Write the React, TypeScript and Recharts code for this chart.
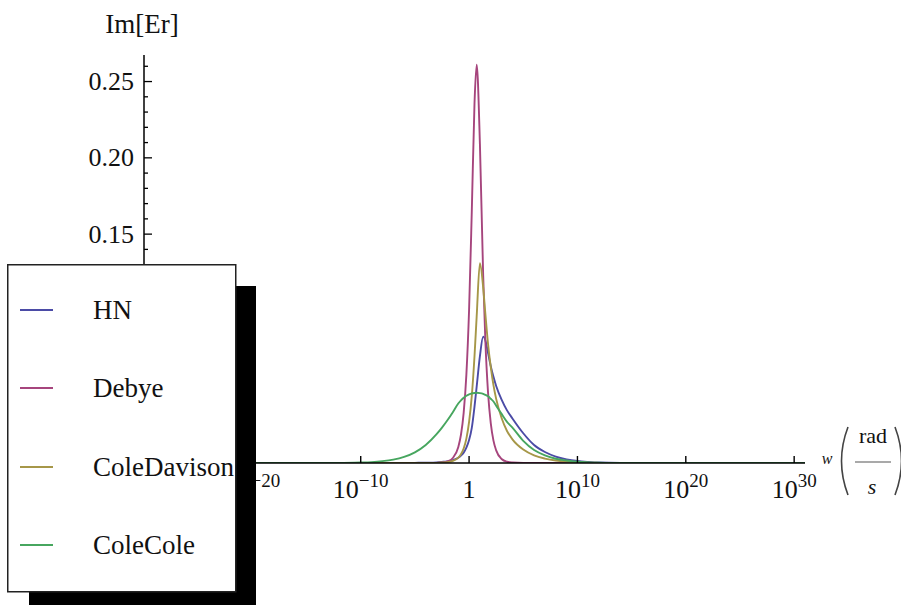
import React from "react"
import { LineChart, Line, XAxis, YAxis } from "recharts"

// log10(w) sample grid and Im[Er] read for each model
const logW = [
  -30, -20, -14, -12, -10, -9, -8, -7, -6, -5, -4, -3, -2.5, -2, -1.5, -1, -0.75, -0.5, -0.25, 0,
  0.25, 0.5, 0.7, 1, 1.3, 1.5, 1.75, 2, 2.25, 2.5, 3, 3.5, 4, 5, 6, 7, 8, 9, 10, 11, 12, 14, 20, 31,
]

const hn = [
  0, 0, 0, 0, 0, 0, 0, 0, 0, 0.0001, 0.0002, 0.0004, 0.0007, 0.0011, 0.0019, 0.0034, 0.0048, 0.0068, 0.01, 0.015,
  0.023, 0.037, 0.05, 0.07, 0.0828, 0.0805, 0.072, 0.0635, 0.0565, 0.0505, 0.0415, 0.0345, 0.0292, 0.0195, 0.0118, 0.0072, 0.0042, 0.0024, 0.0013, 0.0007, 0.0003, 0.0001, 0, 0,
]

const debye = [
  0, 0, 0, 0, 0, 0, 0, 0, 0, 0, 0, 0, 0.0003, 0.001, 0.0033, 0.0104, 0.0185, 0.0329, 0.0579, 0.1004,
  0.165, 0.2356, 0.261, 0.209, 0.123, 0.0806, 0.0461, 0.0262, 0.0147, 0.0083, 0.0026, 0.0008, 0.0003, 0, 0, 0, 0, 0, 0, 0, 0, 0, 0, 0,
]

const coleDavison = [
  0, 0, 0, 0, 0, 0, 0, 0, 0, 0, 0, 0.0001, 0.0003, 0.0006, 0.0014, 0.0035, 0.0058, 0.0095, 0.016, 0.027,
  0.044, 0.07, 0.096, 0.131, 0.115, 0.098, 0.078, 0.063, 0.051, 0.042, 0.0295, 0.021, 0.0155, 0.0088, 0.005, 0.0029, 0.0016, 0.0009, 0.0005, 0.0002, 0.0001, 0, 0, 0,
]

const coleCole = [
  0, 0, 0, 0, 0.0003, 0.0006, 0.0012, 0.0022, 0.004, 0.007, 0.0118, 0.0189, 0.0232, 0.028, 0.0333, 0.039, 0.0411, 0.0428, 0.0441, 0.045,
  0.0456, 0.0459, 0.046, 0.0458, 0.0453, 0.0447, 0.0437, 0.0421, 0.0403, 0.0376, 0.0322, 0.027, 0.0232, 0.0145, 0.0085, 0.005, 0.0028, 0.0016, 0.0008, 0.0004, 0.0002, 0, 0, 0,
]

const seriesNames = ["HN", "Debye", "ColeDavison", "ColeCole"]
const seriesKeys = ["hn", "debye", "coleDavison", "coleCole"]
const seriesColors = ["#4b4ba6", "#a6457d", "#a69748", "#47a65f"]

// exponents of the decade ticks
const xTicks = [-20, -10, 0, 10, 20, 30]
const yTicks = [
  0.01, 0.02, 0.03, 0.04, 0.05, 0.06, 0.07, 0.08, 0.09, 0.1, 0.11, 0.12, 0.13,
  0.14, 0.15, 0.16, 0.17, 0.18, 0.19, 0.2, 0.21, 0.22, 0.23, 0.24, 0.25, 0.26,
]
const yMajorTicks = [0.05, 0.1, 0.15, 0.2, 0.25]
// the lower labels sit behind the legend box, so only these get text
const yLabelTicks = [0.15, 0.2, 0.25]

const data = logW.map((w, i) => ({
  logW: w,
  hn: hn[i],
  debye: debye[i],
  coleDavison: coleDavison[i],
  coleCole: coleCole[i],
}))

const serif = "'Liberation Serif', 'Times New Roman', serif"

function XTick({ x, y, payload }: any) {
  const p = payload.value as number
  return (
    <g>
      <line x1={x} x2={x} y1={y} y2={y - 7} stroke="#000" strokeWidth={1.4} />
      <text x={x} y={y + 35} textAnchor="middle" fontSize={26} fill="#111" fontFamily={serif}>
        {p === 0 ? (
          "1"
        ) : (
          <>
            <tspan>10</tspan>
            <tspan dy={-11} fontSize={19}>
              {p < 0 ? "\u2212" + Math.abs(p) : String(p)}
            </tspan>
          </>
        )}
      </text>
    </g>
  )
}

function YTick({ x, y, payload }: any) {
  const v = payload.value as number
  const major = yMajorTicks.includes(v)
  return (
    <g>
      <line x1={x} x2={x + (major ? 8 : 4)} y1={y} y2={y} stroke="#000" strokeWidth={1.3} />
      {yLabelTicks.includes(v) && (
        <text x={x - 10} y={y + 8.5} textAnchor="end" fontSize={26} fill="#111" fontFamily={serif}>
          {v.toFixed(2)}
        </text>
      )}
    </g>
  )
}

function YTitle({ viewBox }: any) {
  const ax = viewBox.x + viewBox.width
  return (
    <text x={ax - 2} y={viewBox.y - 22} textAnchor="middle" fontSize={27} fill="#111" fontFamily={serif}>
      Im[Er]
    </text>
  )
}

function XTitle({ viewBox }: any) {
  const x0 = viewBox.x + viewBox.width
  const y0 = viewBox.y
  return (
    <g fontFamily={serif} fill="#111">
      <text x={x0 + 22} y={y0 + 1} textAnchor="middle" fontSize={16} fontStyle="italic">
        w
      </text>
      <path d={`M ${x0 + 43} ${y0 - 36} Q ${x0 + 30} ${y0 - 2} ${x0 + 43} ${y0 + 32}`} stroke="#444" strokeWidth={1.6} fill="none" />
      <text x={x0 + 68} y={y0 - 20} textAnchor="middle" fontSize={22}>
        rad
      </text>
      <line x1={x0 + 50} x2={x0 + 86} y1={y0 - 1} y2={y0 - 1} stroke="#555" strokeWidth={1.2} />
      <text x={x0 + 67} y={y0 + 31} textAnchor="middle" fontSize={22} fontStyle="italic">
        s
      </text>
      <path d={`M ${x0 + 90} ${y0 - 36} Q ${x0 + 103} ${y0 - 2} ${x0 + 90} ${y0 + 32}`} stroke="#444" strokeWidth={1.6} fill="none" />
    </g>
  )
}

function LegendBox() {
  const rowY = [310, 388, 467, 545]
  return (
    <svg width={901} height={605} style={{ position: "absolute", left: 0, top: 0, pointerEvents: "none" }}>
      <rect x={29} y={286} width={227} height={319} fill="#000" />
      <rect x={7.75} y={264.75} width={228} height={327} fill="#fff" stroke="#222" strokeWidth={1.5} />
      {seriesNames.map((name, i) => (
        <g key={name}>
          <line x1={20} x2={53} y1={rowY[i]} y2={rowY[i]} stroke={seriesColors[i]} strokeWidth={1.9} />
          <text x={93} y={rowY[i] + 9} fontSize={27} fill="#111" fontFamily={serif}>
            {name}
          </text>
        </g>
      ))}
    </svg>
  )
}

export default function App() {
  return (
    <div style={{ position: "absolute", left: 0, top: 0, width: 901, height: 605, background: "#fff" }}>
      <LineChart width={901} height={605} data={data} margin={{ top: 55, right: 96, left: 84, bottom: 112 }}>
        <XAxis
          type="number"
          dataKey="logW"
          domain={[-30, 31]}
          ticks={xTicks}
          interval={0}
          height={30}
          tickSize={0}
          tickMargin={0}
          tickLine={false}
          axisLine={{ stroke: "#000", strokeWidth: 1.5 }}
          tick={<XTick />}
          allowDataOverflow
          label={<XTitle />}
        />
        <YAxis
          type="number"
          domain={[0, 0.2674]}
          ticks={yTicks}
          interval={0}
          width={60}
          tickSize={0}
          tickMargin={0}
          tickLine={false}
          axisLine={{ stroke: "#000", strokeWidth: 1.5 }}
          tick={<YTick />}
          allowDataOverflow
          label={<YTitle />}
        />
        {seriesKeys.map((k, i) => (
          <Line
            key={k}
            type="monotone"
            dataKey={k}
            name={seriesNames[i]}
            stroke={seriesColors[i]}
            strokeWidth={1.9}
            dot={false}
            activeDot={false}
            isAnimationActive={false}
          />
        ))}
      </LineChart>
      <LegendBox />
    </div>
  )
}
